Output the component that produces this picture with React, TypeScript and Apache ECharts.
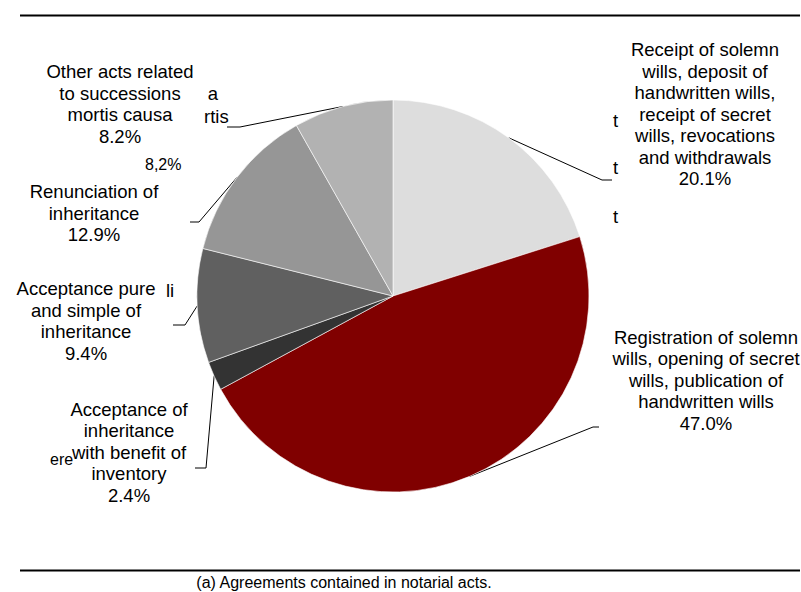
import React, { useEffect, useRef } from "react";
import * as echarts from "echarts";

const categories = [
  "Receipt of solemn\nwills, deposit of\nhandwritten wills,\nreceipt of secret\nwills, revocations\nand withdrawals",
  "Registration of solemn\nwills, opening of secret\nwills, publication of\nhandwritten wills",
  "Acceptance of\ninheritance\nwith benefit of\ninventory",
  "Acceptance pure\nand simple of\ninheritance",
  "Renunciation of\ninheritance",
  "Other acts related\nto successions\nmortis causa",
];
const values = [20.1, 47.0, 2.4, 9.4, 12.9, 8.2];
const sliceColors = ["#dddddd", "#800000", "#333333", "#606060", "#969696", "#b2b2b2"];
const caption = "(a) Agreements contained in notarial acts.";

// label block centres and label-line elbow / end points (layout only)
const labelPos = [
  { x: 705, y: 114, elbow: [602, 180], end: [612, 180] },
  { x: 706, y: 380, elbow: [593, 427], end: [599, 427] },
  { x: 129, y: 452, elbow: [206, 468], end: [195, 468] },
  { x: 86, y: 321, elbow: [185, 325], end: [173, 325] },
  { x: 94, y: 213, elbow: [199, 222], end: [190, 222] },
  { x: 120, y: 104, elbow: [240, 127], end: [227, 127] },
];

const FONT = "'Liberation Sans', Arial, sans-serif";

export default function App() {
  const ref = useRef<HTMLDivElement>(null);
  useEffect(() => {
    if (!ref.current) return;
    const chart = echarts.init(ref.current, null, { renderer: "svg" });
    const ghost = (text: string, x: number, y: number, size = 18.5, align = "left") => ({
      type: "text",
      x,
      y,
      silent: true,
      style: {
        text,
        fill: "#000",
        font: `${size}px ${FONT}`,
        textAlign: align,
        textVerticalAlign: "middle",
      },
    });
    chart.setOption({
      animation: false,
      backgroundColor: "#ffffff",
      graphic: [
        { type: "line", silent: true, shape: { x1: 20, y1: 15.5, x2: 800, y2: 15.5 }, style: { stroke: "#000", lineWidth: 2 } },
        { type: "line", silent: true, shape: { x1: 20, y1: 570.5, x2: 800, y2: 570.5 }, style: { stroke: "#000", lineWidth: 2 } },
        {
          type: "text",
          x: 344,
          y: 582,
          silent: true,
          style: { text: caption, fill: "#000", font: `16px ${FONT}`, textAlign: "center", textVerticalAlign: "middle" },
        },
        ghost("a", 213, 93, 18.5, "center"),
        ghost("rtis", 204, 116),
        ghost("8,2%", 145, 164, 16),
        ghost("li", 166, 290),
        ghost("ere", 50, 459, 16),
        ghost("t", 613, 120),
        ghost("t", 613, 167),
        ghost("t", 613, 216),
      ],
      series: [
        {
          type: "pie",
          center: [393, 296],
          radius: [0, 196],
          startAngle: 90,
          clockwise: true,
          avoidLabelOverlap: false,
          silent: true,
          emphasis: { disabled: true },
          itemStyle: { borderColor: "#ffffff", borderWidth: 0.6 },
          label: {
            show: true,
            position: "outside",
            formatter: (p: any) => `${p.name}\n${p.value.toFixed(1)}%`,
            color: "#000",
            fontFamily: FONT,
            fontSize: 18.5,
            lineHeight: 21.5,
            align: "center",
          },
          labelLine: {
            show: true,
            length: 20,
            length2: 10,
            lineStyle: { color: "#000", width: 1 },
          },
          labelLayout: (params: any) => {
            const lp = labelPos[params.dataIndex];
            const start = params.labelLinePoints ? params.labelLinePoints[0] : lp.elbow;
            return {
              x: lp.x,
              y: lp.y,
              align: "center",
              verticalAlign: "middle",
              labelLinePoints: [start, lp.elbow, lp.end],
            };
          },
          data: categories.map((name, i) => ({
            name,
            value: values[i],
            itemStyle: { color: sliceColors[i] },
          })),
        },
      ],
    });
    return () => chart.dispose();
  }, []);
  return (
    <div
      ref={ref}
      style={{ position: "fixed", left: 0, top: 0, width: 801, height: 592 }}
    />
  );
}
